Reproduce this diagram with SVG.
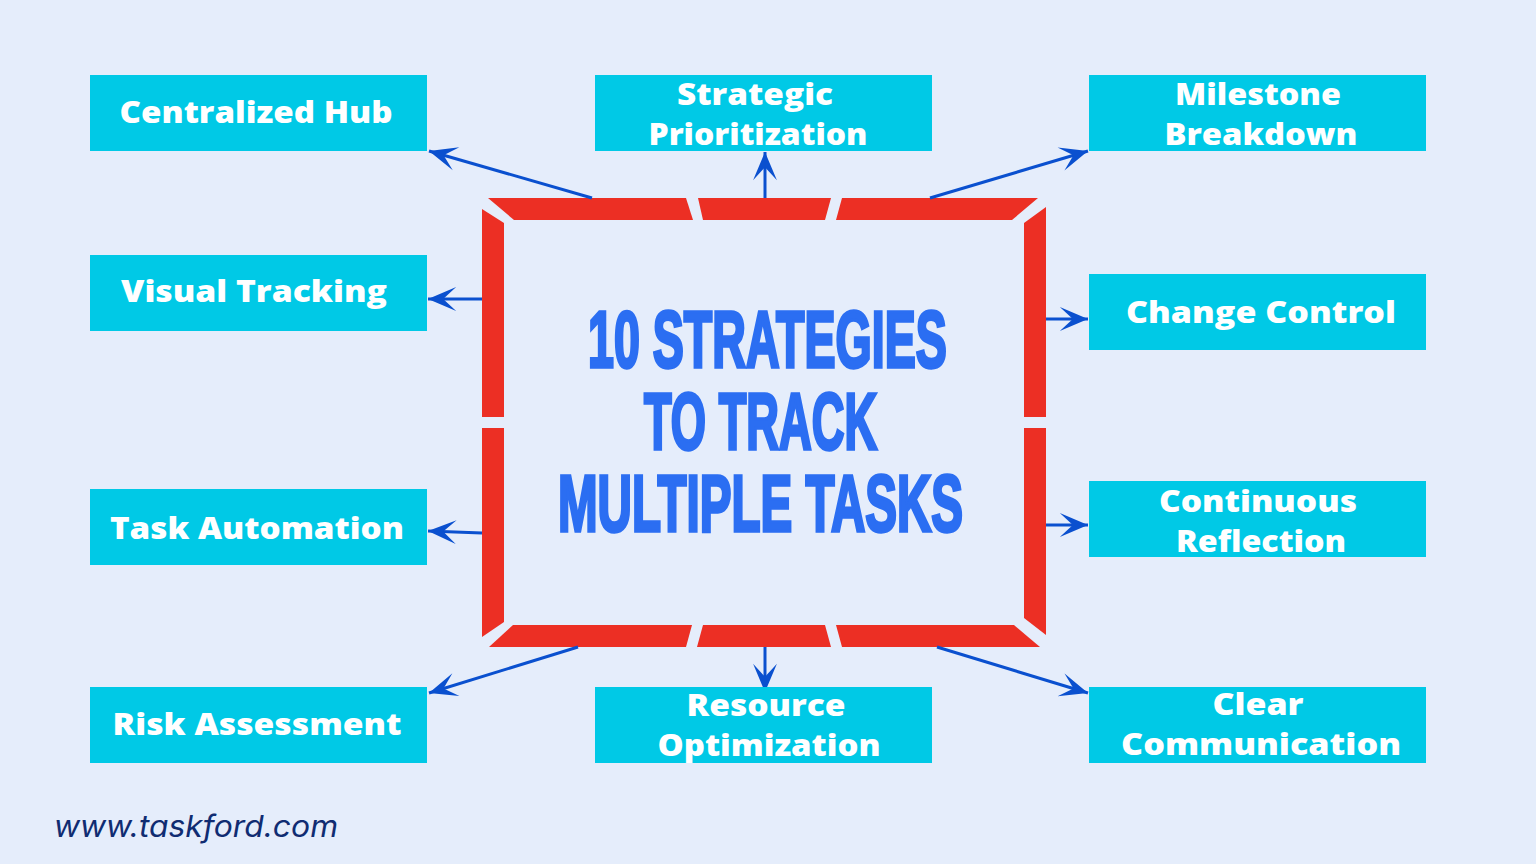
<svg xmlns="http://www.w3.org/2000/svg" width="1536" height="864" viewBox="0 0 1536 864">
  <defs>
    <marker id="ah" markerUnits="userSpaceOnUse" markerWidth="32" markerHeight="26" viewBox="-28 -12 29 24" refX="0" refY="0" orient="auto">
      <path d="M0,0 L-26,-11 L-14,0 L-26,11 Z" fill="#0A50CF"/>
    </marker>
    <style>
      .box { fill: #00C9E6; }
      .lbl { fill: #FFFFFF; font-family: "Open Sans", "Noto Sans", sans-serif; font-weight: 800; font-size: 30px; text-anchor: middle; }
      .frame { fill: #EC2F24; }
      .conn { stroke: #0A50CF; stroke-width: 3; fill: none; marker-end: url(#ah); }
      .title { fill: #2B6EF2; stroke: #2B6EF2; stroke-width: 3.5; stroke-linejoin: miter; font-family: "Liberation Sans", "DejaVu Sans", sans-serif; font-weight: 700; font-size: 80px; }
    </style>
  </defs>
  <rect x="0" y="0" width="1536" height="864" fill="#E5EDFB"/>

  <g id="frame">
    <polygon class="frame" points="488,198 686,198 693,220 514,220"/>
    <polygon class="frame" points="698,198 831,198 825,220 703,220"/>
    <polygon class="frame" points="842,198 1038,198 1012,220 836,220"/>
    <polygon class="frame" points="482,209 504,223 504,417 482,417"/>
    <polygon class="frame" points="482,428 504,428 504,622 482,637"/>
    <polygon class="frame" points="1024,223 1046,207 1046,417 1024,417"/>
    <polygon class="frame" points="1024,428 1046,428 1046,635 1024,618"/>
    <polygon class="frame" points="513,625 692,625 686,647 489,647"/>
    <polygon class="frame" points="703,625 825,625 831,647 697,647"/>
    <polygon class="frame" points="836,625 1014,625 1040,647 842,647"/>
  </g>

  <g id="title">
    <text class="title" transform="translate(588,367) scale(0.577,1)" x="0" y="0" textLength="622" lengthAdjust="spacingAndGlyphs">10 STRATEGIES</text>
    <text class="title" transform="translate(644,449) scale(0.577,1)" x="0" y="0" textLength="404" lengthAdjust="spacingAndGlyphs">TO TRACK</text>
    <text class="title" transform="translate(558,531) scale(0.577,1)" x="0" y="0" textLength="702" lengthAdjust="spacingAndGlyphs">MULTIPLE TASKS</text>
  </g>

  <g id="connectors">
    <line class="conn" x1="592" y1="198" x2="429" y2="151"/>
    <line class="conn" x1="765" y1="198" x2="765" y2="152"/>
    <line class="conn" x1="930" y1="198" x2="1088" y2="151"/>
    <line class="conn" x1="482" y1="299" x2="428" y2="299"/>
    <line class="conn" x1="1046" y1="319" x2="1088" y2="319"/>
    <line class="conn" x1="482" y1="533" x2="428" y2="531"/>
    <line class="conn" x1="1046" y1="525" x2="1088" y2="525"/>
    <line class="conn" x1="578" y1="647" x2="429" y2="693"/>
    <line class="conn" x1="765" y1="647" x2="765" y2="692"/>
    <line class="conn" x1="937" y1="647" x2="1088" y2="693"/>
  </g>

  <g id="node-centralized-hub">
    <rect class="box" x="90" y="75" width="337" height="76"/>
    <text class="lbl" x="256" y="123" textLength="273" lengthAdjust="spacingAndGlyphs">Centralized Hub</text>
  </g>
  <g id="node-strategic-prioritization">
    <rect class="box" x="595" y="75" width="337" height="76"/>
    <text class="lbl" x="755" y="105" textLength="156" lengthAdjust="spacingAndGlyphs">Strategic</text>
    <text class="lbl" x="758" y="145" textLength="219" lengthAdjust="spacingAndGlyphs">Prioritization</text>
  </g>
  <g id="node-milestone-breakdown">
    <rect class="box" x="1089" y="75" width="337" height="76"/>
    <text class="lbl" x="1258" y="105" textLength="166" lengthAdjust="spacingAndGlyphs">Milestone</text>
    <text class="lbl" x="1261" y="145" textLength="193" lengthAdjust="spacingAndGlyphs">Breakdown</text>
  </g>
  <g id="node-visual-tracking">
    <rect class="box" x="90" y="255" width="337" height="76"/>
    <text class="lbl" x="254" y="302" textLength="266" lengthAdjust="spacingAndGlyphs">Visual Tracking</text>
  </g>
  <g id="node-change-control">
    <rect class="box" x="1089" y="274" width="337" height="76"/>
    <text class="lbl" x="1261" y="323" textLength="270" lengthAdjust="spacingAndGlyphs">Change Control</text>
  </g>
  <g id="node-task-automation">
    <rect class="box" x="90" y="489" width="337" height="76"/>
    <text class="lbl" x="257" y="539" textLength="294" lengthAdjust="spacingAndGlyphs">Task Automation</text>
  </g>
  <g id="node-continuous-reflection">
    <rect class="box" x="1089" y="481" width="337" height="76"/>
    <text class="lbl" x="1258" y="512" textLength="198" lengthAdjust="spacingAndGlyphs">Continuous</text>
    <text class="lbl" x="1261" y="552" textLength="170" lengthAdjust="spacingAndGlyphs">Reflection</text>
  </g>
  <g id="node-risk-assessment">
    <rect class="box" x="90" y="687" width="337" height="76"/>
    <text class="lbl" x="257" y="735" textLength="289" lengthAdjust="spacingAndGlyphs">Risk Assessment</text>
  </g>
  <g id="node-resource-optimization">
    <rect class="box" x="595" y="687" width="337" height="76"/>
    <text class="lbl" x="766" y="716" textLength="159" lengthAdjust="spacingAndGlyphs">Resource</text>
    <text class="lbl" x="769" y="756" textLength="223" lengthAdjust="spacingAndGlyphs">Optimization</text>
  </g>
  <g id="node-clear-communication">
    <rect class="box" x="1089" y="687" width="337" height="76"/>
    <text class="lbl" x="1258" y="715" textLength="91" lengthAdjust="spacingAndGlyphs">Clear</text>
    <text class="lbl" x="1261" y="755" textLength="280" lengthAdjust="spacingAndGlyphs">Communication</text>
  </g>

  <g id="footer">
    <text x="54" y="837" fill="#102C72" font-family="Inter, 'Liberation Sans', sans-serif" font-style="italic" font-size="30" textLength="284" lengthAdjust="spacingAndGlyphs">www.taskford.com</text>
  </g>
</svg>
